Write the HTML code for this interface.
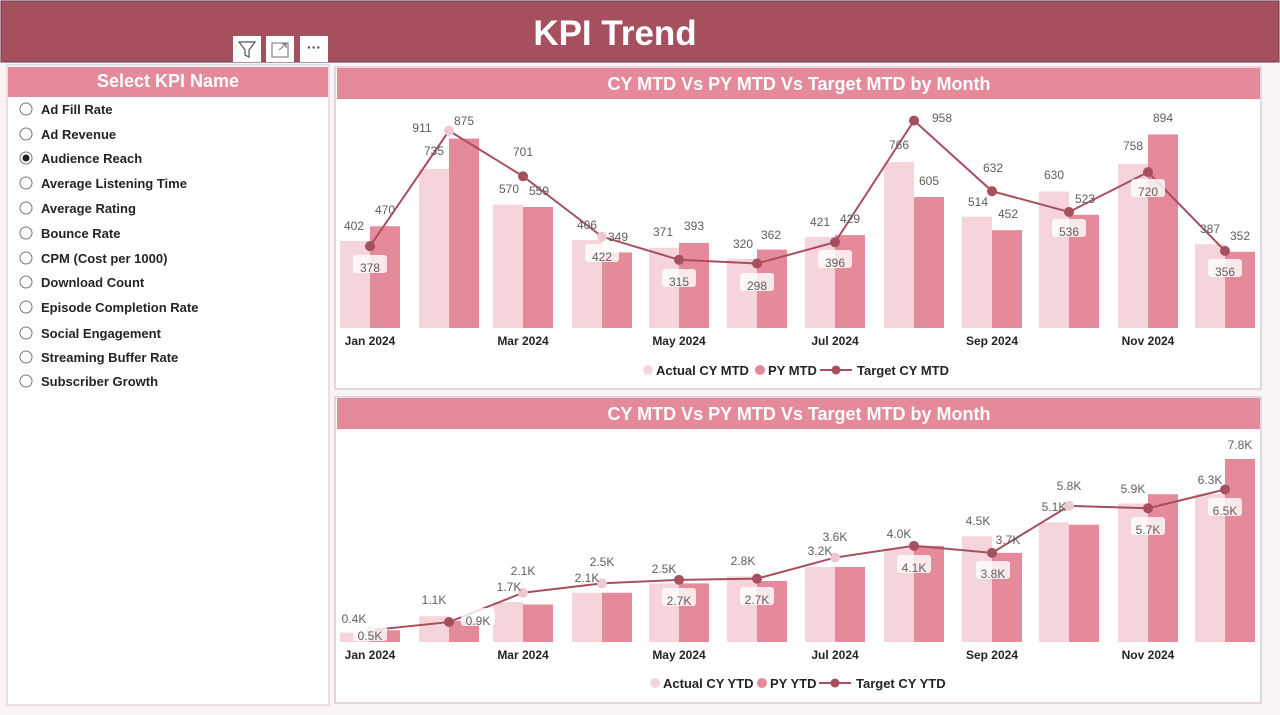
<!DOCTYPE html>
<html><head><meta charset="utf-8"><style>
body{margin:0;width:1280px;height:715px;overflow:hidden;background:#fbf4f6;font-family:"Liberation Sans",sans-serif}
svg{display:block}
.t{font-family:"Liberation Sans",sans-serif}
.ti{fill:#fff;font-weight:bold;font-size:18px}
.it{font-weight:bold;font-size:13px;fill:#252423}
.v{font-size:12px;fill:#605e5c}
.ax{font-size:12px;font-weight:bold;fill:#252423}
.lg{font-size:13px;font-weight:bold;fill:#252423}
</style></head><body>
<svg id="s" width="1280" height="715" viewBox="0 0 1280 715" class="t">
<rect x="0" y="0" width="1280" height="715" fill="#fbf4f6"/>
<rect x="1" y="1" width="1278" height="61" fill="#a64f5f" stroke="#6b3a50"/>
<text x="615" y="45" text-anchor="middle" fill="#fff" font-weight="bold" font-size="35">KPI Trend</text>
<!-- toolbar -->
<rect x="233" y="36" width="28" height="26" fill="#fff"/><rect x="266" y="36" width="28" height="26" fill="#fff"/><rect x="300" y="36" width="28" height="26" fill="#fff"/>
<path d="M239 42h16l-6 8v7l-4-2v-5z" fill="none" stroke="#555" stroke-width="1.2"/>
<path d="M272 43h16v14h-16z M279 50l7-6 M282 44h4v4" fill="none" stroke="#777" stroke-width="1.1"/>
<text x="314" y="52" text-anchor="middle" font-size="14" fill="#444" font-weight="bold">···</text>
<!-- slicer -->
<rect x="7" y="65" width="322" height="640" fill="#fff" stroke="#d8c6ce"/>
<rect x="8" y="67" width="320" height="30" fill="#e48a9a"/>
<text x="168" y="87" text-anchor="middle" class="ti">Select KPI Name</text>
<g id="items"></g>
<text class="it" x="41" y="114">Ad Fill Rate</text>
<text class="it" x="41" y="139">Ad Revenue</text>
<text class="it" x="41" y="163">Audience Reach</text>
<text class="it" x="41" y="188">Average Listening Time</text>
<text class="it" x="41" y="213">Average Rating</text>
<text class="it" x="41" y="238">Bounce Rate</text>
<text class="it" x="41" y="263">CPM (Cost per 1000)</text>
<text class="it" x="41" y="287">Download Count</text>
<text class="it" x="41" y="312">Episode Completion Rate</text>
<text class="it" x="41" y="338">Social Engagement</text>
<text class="it" x="41" y="362">Streaming Buffer Rate</text>
<text class="it" x="41" y="386">Subscriber Growth</text>
<!-- chart panels -->
<rect x="335" y="67" width="926" height="322" fill="#fff" stroke="#c9b3c4"/>
<rect x="337" y="68" width="923" height="31" fill="#e48a9a"/>
<text x="799" y="90" text-anchor="middle" class="ti">CY MTD Vs PY MTD Vs Target MTD by Month</text>
<rect x="335" y="397" width="926" height="306" fill="#fff" stroke="#c9b3c4"/>
<rect x="337" y="398" width="923" height="31" fill="#e48a9a"/>
<text x="799" y="420" text-anchor="middle" class="ti">CY MTD Vs PY MTD Vs Target MTD by Month</text>
<g id="g1"></g><g id="g2"></g>
<g class="ax" text-anchor="middle">
<text x="370" y="345">Jan 2024</text><text x="523" y="345">Mar 2024</text><text x="679" y="345">May 2024</text><text x="835" y="345">Jul 2024</text><text x="992" y="345">Sep 2024</text><text x="1148" y="345">Nov 2024</text>
<text x="370" y="659">Jan 2024</text><text x="523" y="659">Mar 2024</text><text x="679" y="659">May 2024</text><text x="835" y="659">Jul 2024</text><text x="992" y="659">Sep 2024</text><text x="1148" y="659">Nov 2024</text>
</g>
<g id="boxes"></g>
<g class="v" text-anchor="middle">
<text x="354" y="230">402</text><text x="385" y="214">470</text><text x="370" y="272">378</text>
<text x="422" y="132">911</text><text x="464" y="125">875</text><text x="434" y="155">735</text>
<text x="509" y="193">570</text><text x="539" y="195">559</text><text x="523" y="156">701</text>
<text x="587" y="229">406</text><text x="618" y="241">349</text><text x="602" y="261">422</text>
<text x="663" y="236">371</text><text x="694" y="230">393</text><text x="679" y="286">315</text>
<text x="743" y="248">320</text><text x="771" y="239">362</text><text x="757" y="290">298</text>
<text x="820" y="226">421</text><text x="850" y="223">429</text><text x="835" y="267">396</text>
<text x="899" y="149">766</text><text x="942" y="122">958</text><text x="929" y="185">605</text>
<text x="978" y="206">514</text><text x="993" y="172">632</text><text x="1008" y="218">452</text>
<text x="1054" y="179">630</text><text x="1085" y="203">523</text><text x="1069" y="236">536</text>
<text x="1133" y="150">758</text><text x="1163" y="122">894</text><text x="1148" y="196">720</text>
<text x="1210" y="233">387</text><text x="1240" y="240">352</text><text x="1225" y="276">356</text>
<text x="354" y="623">0.4K</text><text x="370" y="640">0.5K</text><text x="434" y="604">1.1K</text><text x="478" y="625">0.9K</text>
<text x="509" y="591">1.7K</text><text x="523" y="575">2.1K</text><text x="587" y="582">2.1K</text><text x="602" y="566">2.5K</text>
<text x="664" y="573">2.5K</text><text x="679" y="605">2.7K</text><text x="743" y="565">2.8K</text><text x="757" y="604">2.7K</text>
<text x="820" y="555">3.2K</text><text x="835" y="541">3.6K</text><text x="899" y="538">4.0K</text><text x="914" y="572">4.1K</text>
<text x="978" y="525">4.5K</text><text x="1008" y="544">3.7K</text><text x="993" y="578">3.8K</text>
<text x="1054" y="511">5.1K</text><text x="1069" y="490">5.8K</text><text x="1133" y="493">5.9K</text><text x="1148" y="534">5.7K</text>
<text x="1210" y="484">6.3K</text><text x="1240" y="449">7.8K</text><text x="1225" y="515">6.5K</text>
</g>
<!-- legends -->
<circle cx="648" cy="370" r="5" fill="#f5d5db"/><text class="lg" x="656" y="375">Actual CY MTD</text>
<circle cx="760" cy="370" r="5" fill="#e48a9a"/><text class="lg" x="768" y="375">PY MTD</text>
<line x1="820" y1="370" x2="852" y2="370" stroke="#a64f5f" stroke-width="2"/><circle cx="836" cy="370" r="4.5" fill="#a64f5f"/><text class="lg" x="857" y="375">Target CY MTD</text>
<circle cx="655" cy="683" r="5" fill="#f5d5db"/><text class="lg" x="663" y="688">Actual CY YTD</text>
<circle cx="762" cy="683" r="5" fill="#e48a9a"/><text class="lg" x="770" y="688">PY YTD</text>
<line x1="819" y1="683" x2="851" y2="683" stroke="#a64f5f" stroke-width="2"/><circle cx="835" cy="683" r="4.5" fill="#a64f5f"/><text class="lg" x="856" y="688">Target CY YTD</text>
</svg>
<script>
var NS="http://www.w3.org/2000/svg";
function el(p,t,a){var e=document.createElementNS(NS,t);for(var k in a)e.setAttribute(k,a[k]);p.appendChild(e);return e;}
var it=document.getElementById('items');
var ys=[109,134,158,183,208,233,258,282,307,333,357,381];
ys.forEach(function(y,i){el(it,'circle',{cx:26,cy:y,r:6,fill:'#fff',stroke:'#777','stroke-width':1});if(i==2)el(it,'circle',{cx:26,cy:y,r:3.5,fill:'#222'});});
var cx=[370,449,523,602,679,757,835,914,992,1069,1148,1225];
function chart(g,base,sc,A,P,T,light){
 g=document.getElementById(g);
 for(var i=0;i<12;i++){
  el(g,'rect',{x:cx[i]-30,y:base-A[i]*sc,width:30,height:A[i]*sc,fill:'#f5d5db'});
  el(g,'rect',{x:cx[i],y:base-P[i]*sc,width:30,height:P[i]*sc,fill:'#e48a9a'});
 }
 var pts=T.map(function(v,i){return cx[i]+','+(base-v*sc)}).join(' ');
 el(g,'polyline',{points:pts,fill:'none',stroke:'#a64f5f','stroke-width':2});
 for(var i=0;i<12;i++)el(g,'circle',{cx:cx[i],cy:base-T[i]*sc,r:5,fill:light.indexOf(i)>=0?'#efc9d1':'#a64f5f'});
}
chart('g1',328,0.2165,[402,735,570,406,371,320,421,766,514,630,758,387],[470,875,559,349,393,362,429,605,452,523,894,352],[378,911,701,422,315,298,396,958,632,536,720,356],[1,3]);
chart('g2',642,0.02346,[400,1100,1700,2100,2500,2800,3200,4000,4500,5100,5900,6300],[500,900,1600,2100,2500,2600,3200,4100,3800,5000,6300,7800],[500,850,2100,2500,2650,2700,3600,4100,3800,5800,5700,6500],[0,2,3,6,9]);
var bx=document.getElementById('boxes');
[[370,268],[602,257],[679,282],[757,286],[835,263],[1069,232],[1148,192],[1225,272],[370,636],[478,621],[679,601],[757,600],[914,568],[993,574],[1148,530],[1225,511]].forEach(function(p){el(bx,'rect',{x:p[0]-17,y:p[1]-13,width:34,height:18,rx:3,fill:'#fff','fill-opacity':0.8});});
</script>
</body></html>
